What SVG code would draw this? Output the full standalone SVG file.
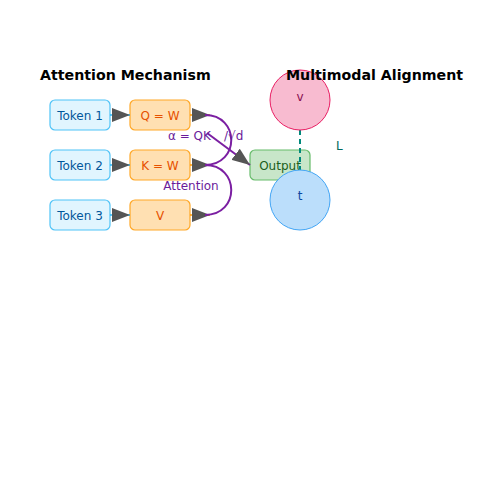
<svg xmlns="http://www.w3.org/2000/svg" width="500" height="500" viewBox="0 0 500 500">
<style>
text{font-family:"DejaVu Sans",Verdana,sans-serif;font-size:12px}
.title{font-size:14.2px;font-weight:bold;fill:#000}
.tok rect{fill:#e1f5fe;stroke:#4fc3f7;stroke-width:1.2}
.tok text{fill:#01579b;text-anchor:middle}
.w rect{fill:#ffe0b2;stroke:#ffa726;stroke-width:1.2}
.w text{fill:#e65100;text-anchor:middle}
.att{fill:none;stroke:#7b1fa2;stroke-width:2}
.lbl{fill:#6a1b9a}
</style>
<defs>
<marker id="ah" markerUnits="userSpaceOnUse" markerWidth="18" markerHeight="14" refX="18" refY="7" orient="auto">
<path d="M0,0 L18,7 L0,14 Z" fill="#555"/>
</marker>
</defs>
<rect width="500" height="500" fill="#fff"/>
<text class="title" x="40" y="80">Attention Mechanism</text>
<g id="token1" class="tok"><rect x="50" y="100" width="60" height="30" rx="5"/><text x="80" y="120">Token 1</text></g>
<g id="token2" class="tok"><rect x="50" y="150" width="60" height="30" rx="5"/><text x="80" y="170">Token 2</text></g>
<g id="token3" class="tok"><rect x="50" y="200" width="60" height="30" rx="5"/><text x="80" y="220">Token 3</text></g>
<g id="wq" class="w"><rect x="130" y="100" width="60" height="30" rx="5"/><text x="160" y="120">Q = W</text></g>
<g id="wk" class="w"><rect x="130" y="150" width="60" height="30" rx="5"/><text x="160" y="170">K = W</text></g>
<g id="wv" class="w"><rect x="130" y="200" width="60" height="30" rx="5"/><text x="160" y="220">V</text></g>
<g id="output"><rect x="250" y="150" width="60" height="30" rx="5" fill="#c8e6c9" stroke="#66bb6a" stroke-width="1.2"/><text x="280" y="170" fill="#1b5e20" text-anchor="middle">Output</text></g>
<g id="connectors">
<line x1="110" y1="115" x2="130" y2="115" stroke="#29b6f6" stroke-width="1.5" marker-end="url(#ah)"/>
<line x1="110" y1="165" x2="130" y2="165" stroke="#29b6f6" stroke-width="1.5" marker-end="url(#ah)"/>
<line x1="110" y1="215" x2="130" y2="215" stroke="#29b6f6" stroke-width="1.5" marker-end="url(#ah)"/>
<line x1="190" y1="115" x2="210" y2="115" stroke="#ff9800" stroke-width="1.5" marker-end="url(#ah)"/>
<line x1="190" y1="165" x2="210" y2="165" stroke="#ff9800" stroke-width="1.5" marker-end="url(#ah)"/>
<line x1="190" y1="215" x2="210" y2="215" stroke="#ff9800" stroke-width="1.5" marker-end="url(#ah)"/>
<path class="att" d="M205,115 C240,115 240,165 205,165"/>
<path class="att" d="M205,165 C240,165 240,215 205,215"/>
<line x1="207" y1="133" x2="250" y2="165" stroke="#7b1fa2" stroke-width="2" marker-end="url(#ah)"/>
<line x1="300" y1="130" x2="300" y2="170" stroke="#00897b" stroke-width="2" stroke-dasharray="5,4"/>
</g>
<text class="lbl" x="168" y="140">α = QK</text>
<text class="lbl" x="224" y="140">/√d</text>
<text class="lbl" x="191" y="190" text-anchor="middle">Attention</text>
<g id="v"><circle cx="300" cy="100" r="30" fill="#f8bbd0" stroke="#e91e63"/><text x="300" y="101" fill="#880e4f" text-anchor="middle">v</text></g>
<g id="t"><circle cx="300" cy="200" r="30" fill="#bbdefb" stroke="#42a5f5"/><text x="300" y="200" fill="#0d47a1" text-anchor="middle">t</text></g>
<text x="336" y="150" fill="#00695c">L</text>
<text class="title" x="286" y="80">Multimodal Alignment</text>
</svg>
